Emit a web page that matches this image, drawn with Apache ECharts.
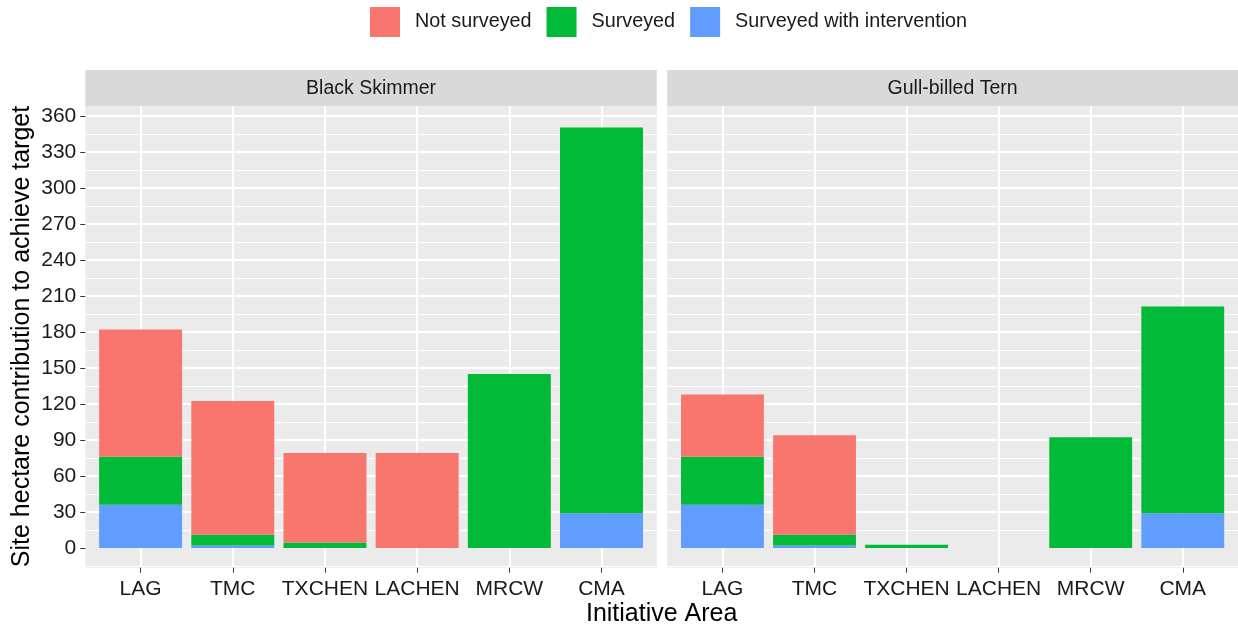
<!DOCTYPE html>
<html>
<head>
<meta charset="utf-8">
<script src="https://cdn.jsdelivr.net/npm/echarts@6/dist/echarts.min.js"></script>
<style>
html,body{margin:0;padding:0;background:#fff;}
#chart{width:1238px;height:628px;}
</style>
</head>
<body>
<div id="chart"></div>
<script>
const categories = ['LAG', 'TMC', 'TXCHEN', 'LACHEN', 'MRCW', 'CMA'];
const panels = ['Black Skimmer', 'Gull-billed Tern'];
const legendNames = ['Not surveyed', 'Surveyed', 'Surveyed with intervention'];
// stacked segment heights (bottom -> top: intervention, surveyed, not surveyed)
const skimmerIntervention = [36, 2, 0, 0, 0, 29];
const skimmerSurveyed = [40, 9, 4.5, 0, 145, 321.5];
const skimmerNotSurveyed = [106, 111.5, 74.7, 79.2, 0, 0];
const ternIntervention = [36, 2, 0, 0, 0, 29];
const ternSurveyed = [40, 9, 2.8, 0, 92.3, 172.2];
const ternNotSurveyed = [52, 83, 0, 0, 0, 0];
const yTicks = [0, 30, 60, 90, 120, 150, 180, 210, 240, 270, 300, 330, 360];

const colors = {
  'Not surveyed': '#F8766D',
  'Surveyed': '#00BA38',
  'Surveyed with intervention': '#619CFF'
};
const FONT = '"Liberation Sans", Arial, Helvetica, sans-serif';
const panelData = [
  { 'Surveyed with intervention': skimmerIntervention, 'Surveyed': skimmerSurveyed, 'Not surveyed': skimmerNotSurveyed },
  { 'Surveyed with intervention': ternIntervention, 'Surveyed': ternSurveyed, 'Not surveyed': ternNotSurveyed }
];

// layout (pixels)
const panelBoxes = [
  { x: 85.3, w: 571.5 },
  { x: 667.2, w: 570.8 }
];
const panelTop = 106, panelBottom = 567.7, stripTop = 70;
const valTop = 116, valBottom = 584; // pixel rows of 360 and -30
const unitOf = b => b.w / 6.2;

const grids = [], xAxes = [], yAxes = [], series = [];
// grids 0,1: bar grids (inset by 0.1 category unit so bands match ggplot's 0.6 expansion)
panelBoxes.forEach((b, p) => {
  const u = unitOf(b);
  grids.push({ left: b.x + 0.1 * u, width: 6 * u, top: valTop, height: valBottom - valTop });
  xAxes.push({ type: 'category', gridIndex: p, data: categories, show: false });
  yAxes.push({ type: 'value', gridIndex: p, min: -30, max: 360, interval: 30, show: false, splitLine: { show: false } });
});
// grids 2,3: full panel width — horizontal gridlines and y axis labels
panelBoxes.forEach((b, p) => {
  grids.push({ left: b.x, width: b.w, top: valTop, height: valBottom - valTop });
  xAxes.push({ type: 'category', gridIndex: 2 + p, data: categories, show: false });
  yAxes.push({
    type: 'value', gridIndex: 2 + p, min: -30, max: 360, interval: 30,
    axisLine: { show: false },
    axisTick: { show: p === 0, length: 5, customValues: yTicks, lineStyle: { color: '#333', width: 1 } },
    axisLabel: { show: p === 0, customValues: yTicks, margin: 9, fontSize: 21, color: '#1a1a1a', fontFamily: FONT },
    splitLine: { show: true, showMinLine: false, lineStyle: { color: '#ffffff', width: 2 } },
    minorTick: { show: false, splitNumber: 2 },
    minorSplitLine: { show: true, lineStyle: { color: '#ffffff', width: 1 } }
  });
});
// grids 4,5: category centres at the edges, full panel height — vertical gridlines, x ticks/labels
panelBoxes.forEach((b, p) => {
  const u = unitOf(b);
  grids.push({ left: b.x + 0.6 * u, width: 5 * u, top: panelTop, height: panelBottom - panelTop });
  xAxes.push({
    type: 'category', gridIndex: 4 + p, data: categories, boundaryGap: false,
    axisLine: { show: false },
    axisTick: { show: true, length: 5, interval: 0, lineStyle: { color: '#333', width: 1 } },
    axisLabel: { interval: 0, margin: 11, fontSize: 21, color: '#1a1a1a', fontFamily: FONT },
    splitLine: { show: true, interval: 0, lineStyle: { color: '#ffffff', width: 2 } }
  });
  yAxes.push({ type: 'value', gridIndex: 4 + p, show: false, min: 0, max: 1, splitLine: { show: false } });
});

[0, 1].forEach(p => {
  ['Surveyed with intervention', 'Surveyed', 'Not surveyed'].forEach(name => {
    series.push({
      name: name, type: 'bar', xAxisIndex: p, yAxisIndex: p, stack: 'panel' + p,
      barWidth: '90%', z: 3,
      itemStyle: { color: colors[name] },
      emphasis: { disabled: true },
      data: panelData[p][name]
    });
  });
});

const graphics = [];
panelBoxes.forEach((b, p) => {
  graphics.push({ type: 'rect', z: -100, silent: true,
    shape: { x: b.x, y: panelTop, width: b.w, height: panelBottom - panelTop },
    style: { fill: '#EBEBEB' } });
  graphics.push({ type: 'rect', z: -100, silent: true,
    shape: { x: b.x, y: stripTop, width: b.w, height: panelTop - stripTop },
    style: { fill: '#D9D9D9' } });
  graphics.push({ type: 'text', z: 10, silent: true, x: b.x + b.w / 2, y: (stripTop + panelTop) / 2 + 1,
    style: { text: panels[p], fill: '#1a1a1a', fontSize: 19.5, fontFamily: FONT, textAlign: 'center', textVerticalAlign: 'middle' } });
});
graphics.push({ type: 'text', silent: true, x: 661.7, y: 614,
  style: { text: 'Initiative Area', fill: '#000', fontSize: 25, fontFamily: FONT, textAlign: 'center', textVerticalAlign: 'middle' } });
graphics.push({ type: 'text', silent: true, x: 22, y: 336.5, rotation: Math.PI / 2,
  style: { text: 'Site hectare contribution to achieve target', fill: '#000', fontSize: 25, fontFamily: FONT, textAlign: 'center', textVerticalAlign: 'middle' } });

const chart = echarts.init(document.getElementById('chart'), null, { renderer: 'canvas' });
chart.setOption({
  animation: false,
  backgroundColor: '#ffffff',
  textStyle: { fontFamily: FONT },
  legend: {
    data: legendNames, left: 370, top: 7, padding: 0, icon: 'rect', itemWidth: 30, itemHeight: 30, itemGap: 15,
    selectedMode: false,
    textStyle: { fontSize: 19.8, color: '#1a1a1a', fontFamily: FONT, padding: [2, 0, 0, 10] }
  },
  grid: grids,
  xAxis: xAxes,
  yAxis: yAxes,
  series: series,
  graphic: graphics
});
</script>
</body>
</html>
